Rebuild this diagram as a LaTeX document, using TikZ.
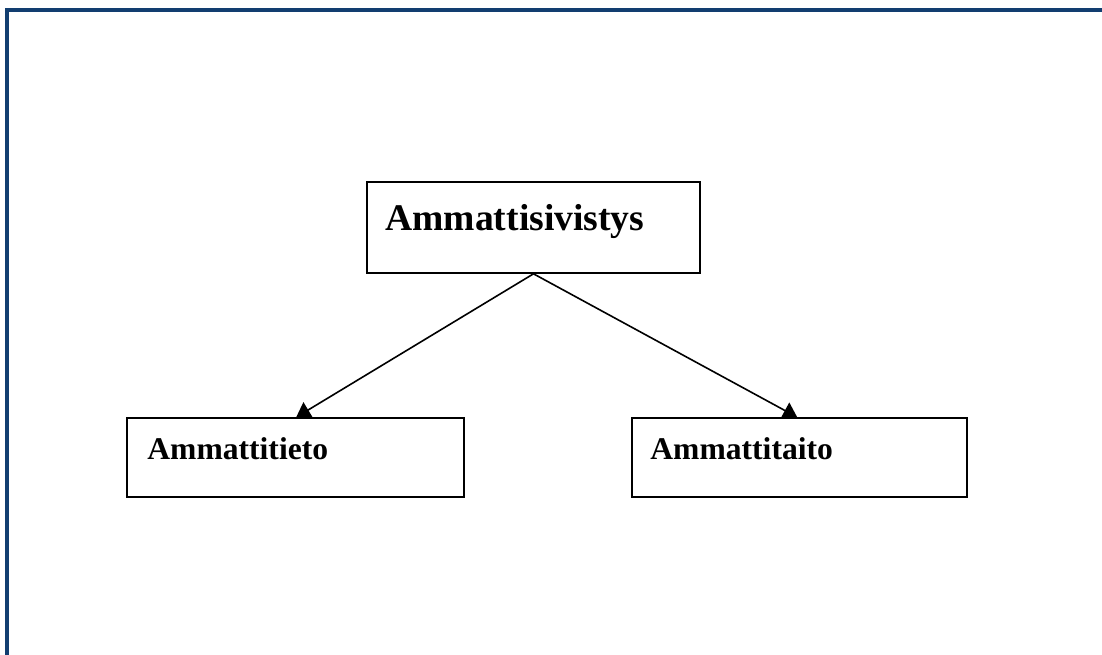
\documentclass[tikz,border=0pt]{standalone}
\usepackage{fontspec}
\setmainfont{Liberation Serif}
\usetikzlibrary{arrows.meta,calc}
\definecolor{framecol}{RGB}{18,62,112}
\tikzset{
  box/.style={draw=black, line width=1.6pt, rectangle, inner sep=0pt},
  lbl/.style={anchor=base west, inner sep=0pt, font=\bfseries},
  conn/.style={line width=1.6pt, -{Triangle[length=14pt,width=18pt]}}
}
\begin{document}
\begin{tikzpicture}[x=1pt,y=-1pt]
\useasboundingbox (0,0) rectangle (1102,654);
\fill[white] (0,0) rectangle (1102,654);
\begin{scope}
\clip (0,0) rectangle (1102,654);
\draw[framecol, line width=3.5pt] (7,10) rectangle (1120,680);
\end{scope}
\node[box, minimum width=333pt, minimum height=91pt] (top) at (533.5,227.5) {};
\node[box, minimum width=337pt, minimum height=79pt] (left) at (295.5,457.5) {};
\node[box, minimum width=335pt, minimum height=79pt] (right) at (799.5,457.5) {};
\node[lbl, font=\fontsize{37.6}{40}\selectfont\bfseries] (tt) at ($(top.west)+(19,2.5)$) {Ammattisivistys};
\node[lbl, font=\fontsize{31.6}{34}\selectfont\bfseries] (lt) at ($(left.west)+(21,2)$) {Ammattitieto};
\node[lbl, font=\fontsize{31.6}{34}\selectfont\bfseries] (rt) at ($(right.west)+(19,2)$) {Ammattitaito};
\coordinate (lend) at ($(left.north west)+(170,0)$);
\coordinate (rend) at ($(right.north west)+(166,0)$);
\draw[conn] (top.south) -- (lend);
\draw[conn] (top.south) -- (rend);
\end{tikzpicture}
\end{document}
